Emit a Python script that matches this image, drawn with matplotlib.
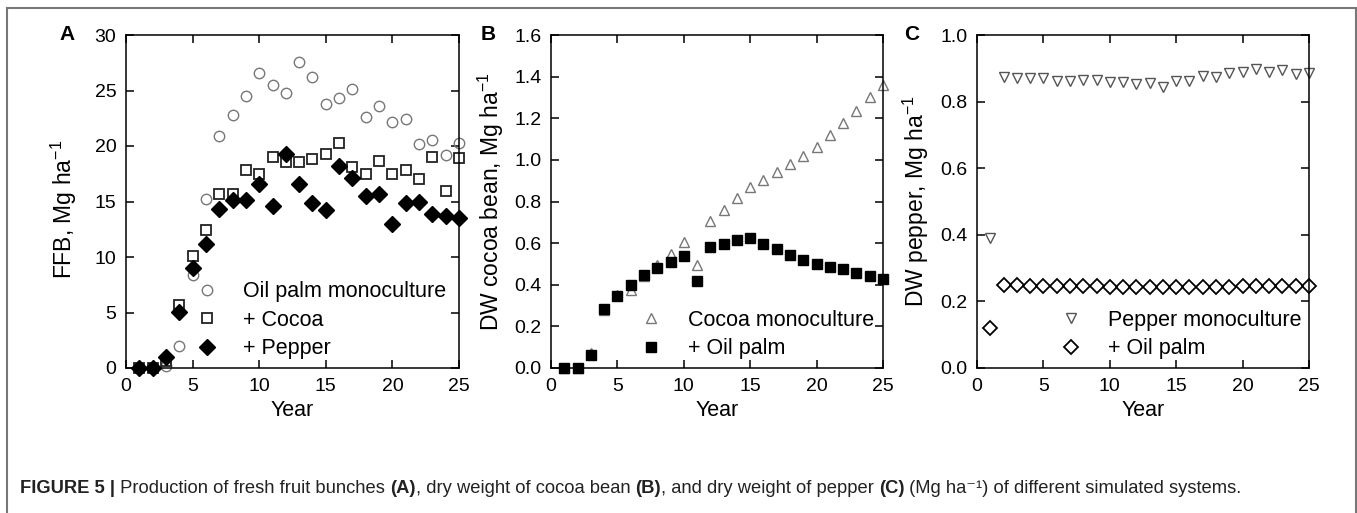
import numpy as np
import matplotlib
matplotlib.use("Agg")
import matplotlib.pyplot as plt
from matplotlib.patches import Rectangle

plt.rcParams['font.family'] = ['Liberation Sans', 'DejaVu Sans']
plt.rcParams['mathtext.fontset'] = 'custom'
plt.rcParams['mathtext.rm'] = 'Liberation Sans'
plt.rcParams['mathtext.it'] = 'Liberation Sans:italic'
plt.rcParams['mathtext.bf'] = 'Liberation Sans:bold'

years = np.arange(1, 26)

# (A) fresh fruit bunches, Mg/ha
ffb_oilpalm = [0, 0, 0.15, 2.0, 8.4, 15.25, 20.9, 22.8, 24.5, 26.6, 25.5, 24.8, 27.6,
               26.2, 23.8, 24.3, 25.1, 22.6, 23.6, 22.2, 22.4, 20.2, 20.5, 19.2, 20.25]
ffb_cocoa = [0, 0, 0.6, 5.7, 10.1, 12.4, 15.7, 15.7, 17.8, 17.5, 19.0, 18.6, 18.6,
             18.8, 19.3, 20.25, 18.1, 17.45, 18.65, 17.5, 17.85, 17.05, 19.0, 15.95, 18.9]
ffb_pepper = [0, 0, 1.0, 5.05, 9.0, 11.2, 14.35, 15.1, 15.1, 16.55, 14.6, 19.3, 16.55,
              14.85, 14.2, 18.2, 17.15, 15.5, 15.65, 13.0, 14.85, 14.95, 13.85, 13.7, 13.55]

# (B) dry weight cocoa bean, Mg/ha
cocoa_mono = [0, 0, 0.07, 0.28, 0.35, 0.375, 0.44, 0.495, 0.55, 0.605, 0.495, 0.707, 0.76,
              0.817, 0.87, 0.905, 0.944, 0.98, 1.02, 1.064, 1.12, 1.175, 1.236, 1.30, 1.36]
cocoa_oilpalm = [0, 0, 0.064, 0.282, 0.346, 0.40, 0.447, 0.48, 0.51, 0.537, 0.42, 0.582, 0.598,
                 0.614, 0.625, 0.598, 0.574, 0.542, 0.518, 0.50, 0.486, 0.474, 0.458, 0.44, 0.43]

# (C) dry weight pepper, Mg/ha
pepper_mono = [0.39, 0.875, 0.872, 0.872, 0.87, 0.862, 0.862, 0.865, 0.865, 0.858, 0.86, 0.853, 0.855,
               0.843, 0.863, 0.863, 0.878, 0.875, 0.885, 0.888, 0.898, 0.89, 0.895, 0.883, 0.885]
pepper_oilpalm = [0.12, 0.248, 0.248, 0.247, 0.247, 0.246, 0.246, 0.245, 0.245, 0.244, 0.244, 0.244, 0.243,
                  0.243, 0.243, 0.243, 0.243, 0.244, 0.244, 0.245, 0.245, 0.246, 0.246, 0.246, 0.246]

W, H = 1357, 513
fig = plt.figure(figsize=(W / 100, H / 100), dpi=100)

FS = 14


def make_axes(left_px, right_px):
    ax = fig.add_axes([left_px / W, 1 - 368 / H, (right_px - left_px) / W, (368 - 35) / H])
    ax.tick_params(direction='in', top=True, right=True, length=6, width=1.1,
                   labelsize=FS, pad=7)
    for s in ax.spines.values():
        s.set_linewidth(1.1)
    ax.set_xlim(0, 25)
    ax.set_xticks([0, 5, 10, 15, 20, 25])
    ax.set_xlabel("Year", fontsize=FS + 1.5, labelpad=4)
    return ax


def style_legend(ax, x, y):
    leg = ax.legend(loc='upper left', bbox_to_anchor=(x, y), frameon=False, fontsize=FS + 1.5,
                    handlelength=1.0, handletextpad=1.2, labelspacing=0.35,
                    borderpad=0, borderaxespad=0)
    return leg


# panel A
ax = make_axes(126, 459)
ax.set_ylim(0, 30)
ax.set_yticks(range(0, 31, 5))
ax.plot(years, ffb_oilpalm, 'o', ms=7.5, mfc='none', mec='#777777', mew=1.0,
        label='Oil palm monoculture', clip_on=False)
ax.plot(years, ffb_cocoa, 's', ms=7.2, mfc='none', mec='#222222', mew=1.3, label='+ Cocoa',
        clip_on=False)
ax.plot(years, ffb_pepper, 'D', ms=8.2, color='black', label='+ Pepper', clip_on=False)
ax.set_ylabel("FFB, Mg ha$^{-1}$", fontsize=16.5)
ax.yaxis.set_label_coords(-0.142, 0.475)
style_legend(ax, 0.21, 0.26)
fig.text(67 / W, 1 - 35 / H, "A", fontsize=FS + 1, weight='bold', ha='center', va='center')

# panel B
ax = make_axes(551, 883)
ax.set_ylim(0, 1.6)
ax.set_yticks(np.arange(0, 1.61, 0.2))
ax.yaxis.set_major_formatter(matplotlib.ticker.FormatStrFormatter('%.1f'))
ax.plot(years, cocoa_mono, '^', ms=7.8, mfc='none', mec='#777777', mew=1.0,
        label='Cocoa monoculture', clip_on=False)
ax.plot(years, cocoa_oilpalm, 's', ms=7.2, color='black', label='+ Oil palm', clip_on=False)
ax.set_ylabel("DW cocoa bean, Mg ha$^{-1}$", fontsize=16.5)
ax.yaxis.set_label_coords(-0.135, 0.5)
style_legend(ax, 0.27, 0.175)
fig.text(488 / W, 1 - 35 / H, "B", fontsize=FS + 1, weight='bold', ha='center', va='center')

# panel C
ax = make_axes(977, 1309)
ax.set_ylim(0, 1.0)
ax.set_yticks(np.arange(0, 1.01, 0.2))
ax.yaxis.set_major_formatter(matplotlib.ticker.FormatStrFormatter('%.1f'))
ax.plot(years, pepper_mono, 'v', ms=7.8, mfc='none', mec='#555555', mew=1.0,
        label='Pepper monoculture', clip_on=False)
ax.plot(years, pepper_oilpalm, 'D', ms=7.5, mfc='none', mec='black', mew=1.3, label='+ Oil palm',
        clip_on=False)
ax.set_ylabel("DW pepper, Mg ha$^{-1}$", fontsize=16.5)
ax.yaxis.set_label_coords(-0.138, 0.5)
style_legend(ax, 0.252, 0.175)
fig.text(912 / W, 1 - 35 / H, "C", fontsize=FS + 1, weight='bold', ha='center', va='center')

# outer frame
fig.add_artist(Rectangle((7 / W, -0.01), (1356 - 7) / W, 1.01 - 8 / H, transform=fig.transFigure,
                         fill=False, edgecolor='#777777', lw=1.5))

# caption
cap = fig.add_axes([0, 0, 1, 1])
cap.axis('off')
parts = [("FIGURE 5 |", 'bold'), (" Production of fresh fruit bunches ", 'normal'), ("(A)", 'bold'),
         (", dry weight of cocoa bean ", 'normal'), ("(B)", 'bold'),
         (", and dry weight of pepper ", 'normal'), ("(C)", 'bold'),
         (" (Mg ha\u207b\u00b9) of different simulated systems.", 'normal')]
prev = cap.text(20 / W, 1 - 497 / H, parts[0][0], weight=parts[0][1], fontsize=13.2,
                ha='left', va='bottom', color='#222222')
for txt, wt in parts[1:]:
    prev = cap.annotate(txt, xy=(1, 0), xycoords=prev, ha='left', va='bottom',
                        fontsize=13.2, weight=wt, color='#222222')

fig.savefig("out.png", dpi=100)
